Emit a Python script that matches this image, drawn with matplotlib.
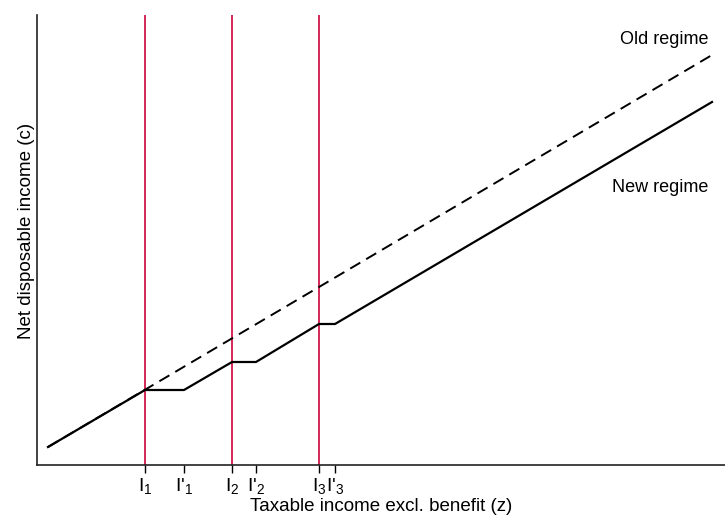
import matplotlib
matplotlib.use("Agg")
import matplotlib.pyplot as plt

plt.rcParams['font.family'] = ['Liberation Sans', 'DejaVu Sans']
plt.rcParams['mathtext.fontset'] = 'custom'
plt.rcParams['mathtext.rm'] = 'Liberation Sans'
plt.rcParams['mathtext.it'] = 'Liberation Sans'

# income thresholds (old kink I, new kink I')
thresholds = [108, 195, 282]
thresholds_new = [147, 219, 298]
tick_labels = ["I$_1$", "I'$_1$", "I$_2$", "I'$_2$", "I$_3$", "I'$_3$"]

# old regime: one straight line
old_z = [11, 675]
old_c = [18, 410]

# new regime: flat parts between I and I'
new_z = [11, 108, 147, 195, 219, 282, 298, 675]
new_c = [18, 75, 75, 103, 103, 141, 141, 363]

fig = plt.figure(figsize=(7.25, 5.2), dpi=100)
ax = fig.add_axes([37 / 725, 55 / 520, 688 / 725, 450 / 520])

for t in thresholds:
    ax.axvline(t, color='#d0164a', lw=1.3, zorder=1)

ax.plot(old_z, old_c, color='black', lw=1.4, dashes=(6, 3.5), zorder=2)
ax.plot(new_z, new_c, color='black', lw=1.6, zorder=3)

ax.text(671, 425, "Old regime", ha='right', va='center', fontsize=13)
ax.text(671, 277, "New regime", ha='right', va='center', fontsize=13)

ticks = []
for a, b in zip(thresholds, thresholds_new):
    ticks += [a, b]
ax.set_xticks(ticks)
ax.set_xticklabels(tick_labels, fontsize=14)
ax.set_yticks([])
ax.tick_params(axis='x', direction='out', length=6, width=1, pad=2)

ax.set_xlim(0, 688)
ax.set_ylim(0, 450)
for side in ['top', 'right']:
    ax.spines[side].set_visible(False)
for side in ['left', 'bottom']:
    ax.spines[side].set_linewidth(1.2)
    ax.spines[side].set_color('#222222')

ax.set_xlabel("Taxable income excl. benefit (z)", fontsize=13.5)
ax.set_ylabel("Net disposable income (c)", fontsize=13.5)
ax.xaxis.set_label_coords(0.5, -0.073)
ax.yaxis.set_label_coords(-0.003, 0.52)

fig.savefig("out.png", dpi=100)
